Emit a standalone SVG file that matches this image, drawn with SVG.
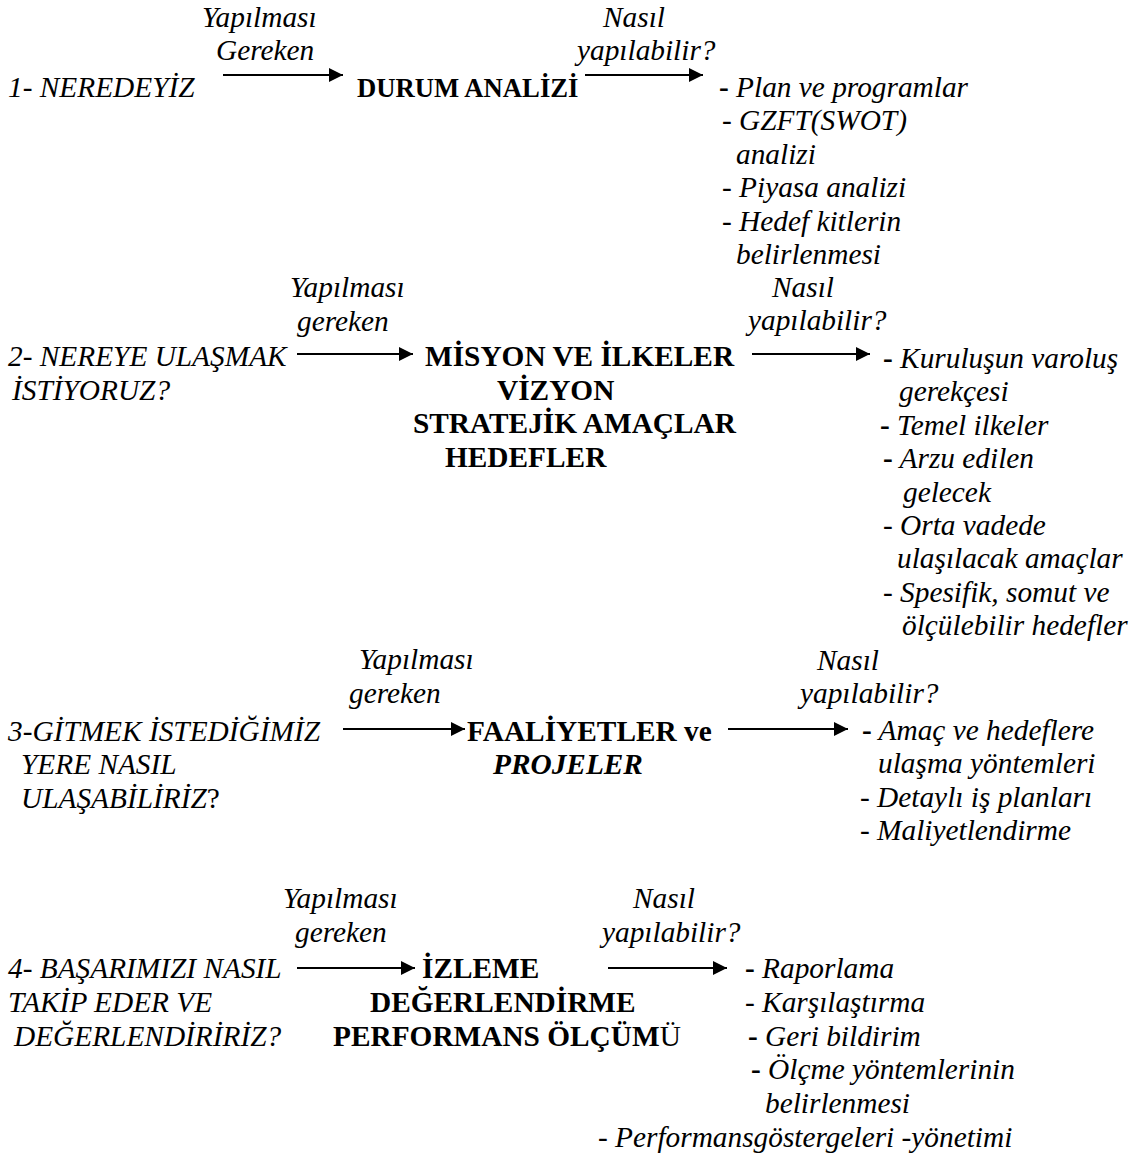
<svg xmlns="http://www.w3.org/2000/svg" width="1142" height="1156" viewBox="0 0 1142 1156">
<style>
  text { font-family: "Liberation Serif", "Times New Roman", serif; font-size: 29.33px; fill: #000; }
  .i { font-style: italic; }
  .b { font-weight: bold; }
  .s20 { font-size: 26.67px; }
  .d { font-weight: bold; font-style: normal; }
  .arr { stroke: #000; stroke-width: 2; fill: none; marker-end: url(#ah); }
</style>
<defs>
  <marker id="ah" markerUnits="userSpaceOnUse" markerWidth="16" markerHeight="16" refX="14" refY="7" orient="auto">
    <path d="M0,0 L14,7 L0,14 z" fill="#000"/>
  </marker>
</defs>
<rect width="1142" height="1156" fill="#fff"/>

<g id="connectors">
  <line class="arr" x1="223" y1="75" x2="343" y2="75"/>
  <line class="arr" x1="585" y1="75" x2="703" y2="75"/>
  <line class="arr" x1="297" y1="354" x2="413" y2="354"/>
  <line class="arr" x1="752" y1="354" x2="870" y2="354"/>
  <line class="arr" x1="343" y1="729" x2="465" y2="729"/>
  <line class="arr" x1="728" y1="729" x2="848" y2="729"/>
  <line class="arr" x1="297" y1="968" x2="415" y2="968"/>
  <line class="arr" x1="608" y1="968" x2="727" y2="968"/>
  <g id="edge-labels" class="i">
    <text class="i" x="202" y="27">Yapılması</text>
    <text class="i" x="216" y="60">Gereken</text>
    <text class="i" x="603" y="27">Nasıl</text>
    <text class="i" x="577" y="60">yapılabilir?</text>
    <text class="i" x="290" y="297">Yapılması</text>
    <text class="i" x="297" y="331">gereken</text>
    <text class="i" x="772" y="297">Nasıl</text>
    <text class="i" x="748" y="330">yapılabilir?</text>
    <text class="i" x="359" y="669">Yapılması</text>
    <text class="i" x="349" y="703">gereken</text>
    <text class="i" x="817" y="670">Nasıl</text>
    <text class="i" x="800" y="703">yapılabilir?</text>
    <text class="i" x="283" y="908">Yapılması</text>
    <text class="i" x="295" y="942">gereken</text>
    <text class="i" x="633" y="908">Nasıl</text>
    <text class="i" x="602" y="942">yapılabilir?</text>
  </g>
</g>

<g id="q1">
  <text class="i" x="8" y="97">1- NEREDEYİZ</text>
</g>
<g id="a1">
  <text class="b s20" x="357" y="97">DURUM ANALİZİ</text>
</g>
<g id="m1">
  <text class="i" x="719" y="97"><tspan class="d">-</tspan> Plan ve programlar</text>
  <text class="i" x="722" y="130">- GZFT(SWOT)</text>
  <text class="i" x="736" y="164">analizi</text>
  <text class="i" x="722" y="197">- Piyasa analizi</text>
  <text class="i" x="722" y="231">- Hedef kitlerin</text>
  <text class="i" x="736" y="264">belirlenmesi</text>
</g>

<g id="q2">
  <text class="i" x="8" y="366">2- NEREYE ULAŞMAK</text>
  <text class="i" x="12" y="400">İSTİYORUZ?</text>
</g>
<g id="a2">
  <text class="b" x="425" y="366">MİSYON VE İLKELER</text>
  <text class="b" x="497" y="400">VİZYON</text>
  <text class="b" x="413" y="433">STRATEJİK AMAÇLAR</text>
  <text class="b" x="445" y="467">HEDEFLER</text>
</g>
<g id="m2">
  <text class="i" x="883" y="368"><tspan class="d">-</tspan> Kuruluşun varoluş</text>
  <text class="i" x="899" y="401">gerekçesi</text>
  <text class="i" x="880" y="435"><tspan class="d">-</tspan> Temel ilkeler</text>
  <text class="i" x="883" y="468"><tspan class="d">-</tspan> Arzu edilen</text>
  <text class="i" x="903" y="502">gelecek</text>
  <text class="i" x="883" y="535">- Orta vadede</text>
  <text class="i" x="897" y="568">ulaşılacak amaçlar</text>
  <text class="i" x="883" y="602">- Spesifik, somut ve</text>
  <text class="i" x="902" y="635">ölçülebilir hedefler</text>
</g>

<g id="q3">
  <text class="i" x="8" y="741">3-GİTMEK İSTEDİĞİMİZ</text>
  <text class="i" x="21" y="774">YERE NASIL</text>
  <text class="i" x="21" y="808">ULAŞABİLİRİZ<tspan font-style="normal">?</tspan></text>
</g>
<g id="a3">
  <text class="b" x="467" y="741">FAALİYETLER ve</text>
  <text class="b i" x="493" y="774">PROJELER</text>
</g>
<g id="m3">
  <text class="i" x="862" y="740"><tspan class="d">-</tspan> Amaç ve hedeflere</text>
  <text class="i" x="878" y="773">ulaşma yöntemleri</text>
  <text class="i" x="860" y="807">- Detaylı iş planları</text>
  <text class="i" x="860" y="840">- Maliyetlendirme</text>
</g>

<g id="q4">
  <text class="i" x="8" y="978">4- BAŞARIMIZI NASIL</text>
  <text class="i" x="8" y="1012">TAKİP EDER VE</text>
  <text class="i" x="14" y="1046">DEĞERLENDİRİRİZ?</text>
</g>
<g id="a4">
  <text class="b" x="422" y="978">İZLEME</text>
  <text class="b" x="370" y="1012">DEĞERLENDİRME</text>
  <text class="b" x="333" y="1046">PERFORMANS ÖLÇÜM<tspan font-weight="normal">Ü</tspan></text>
</g>
<g id="m4">
  <text class="i" x="745" y="978"><tspan class="d">-</tspan> Raporlama</text>
  <text class="i" x="745" y="1012">- Karşılaştırma</text>
  <text class="i" x="748" y="1046"><tspan class="d">-</tspan> Geri bildirim</text>
  <text class="i" x="751" y="1079"><tspan class="d">-</tspan> Ölçme yöntemlerinin</text>
  <text class="i" x="765" y="1113">belirlenmesi</text>
  <text class="i" x="598" y="1147">- Performansgöstergeleri -yönetimi</text>
</g>
</svg>
